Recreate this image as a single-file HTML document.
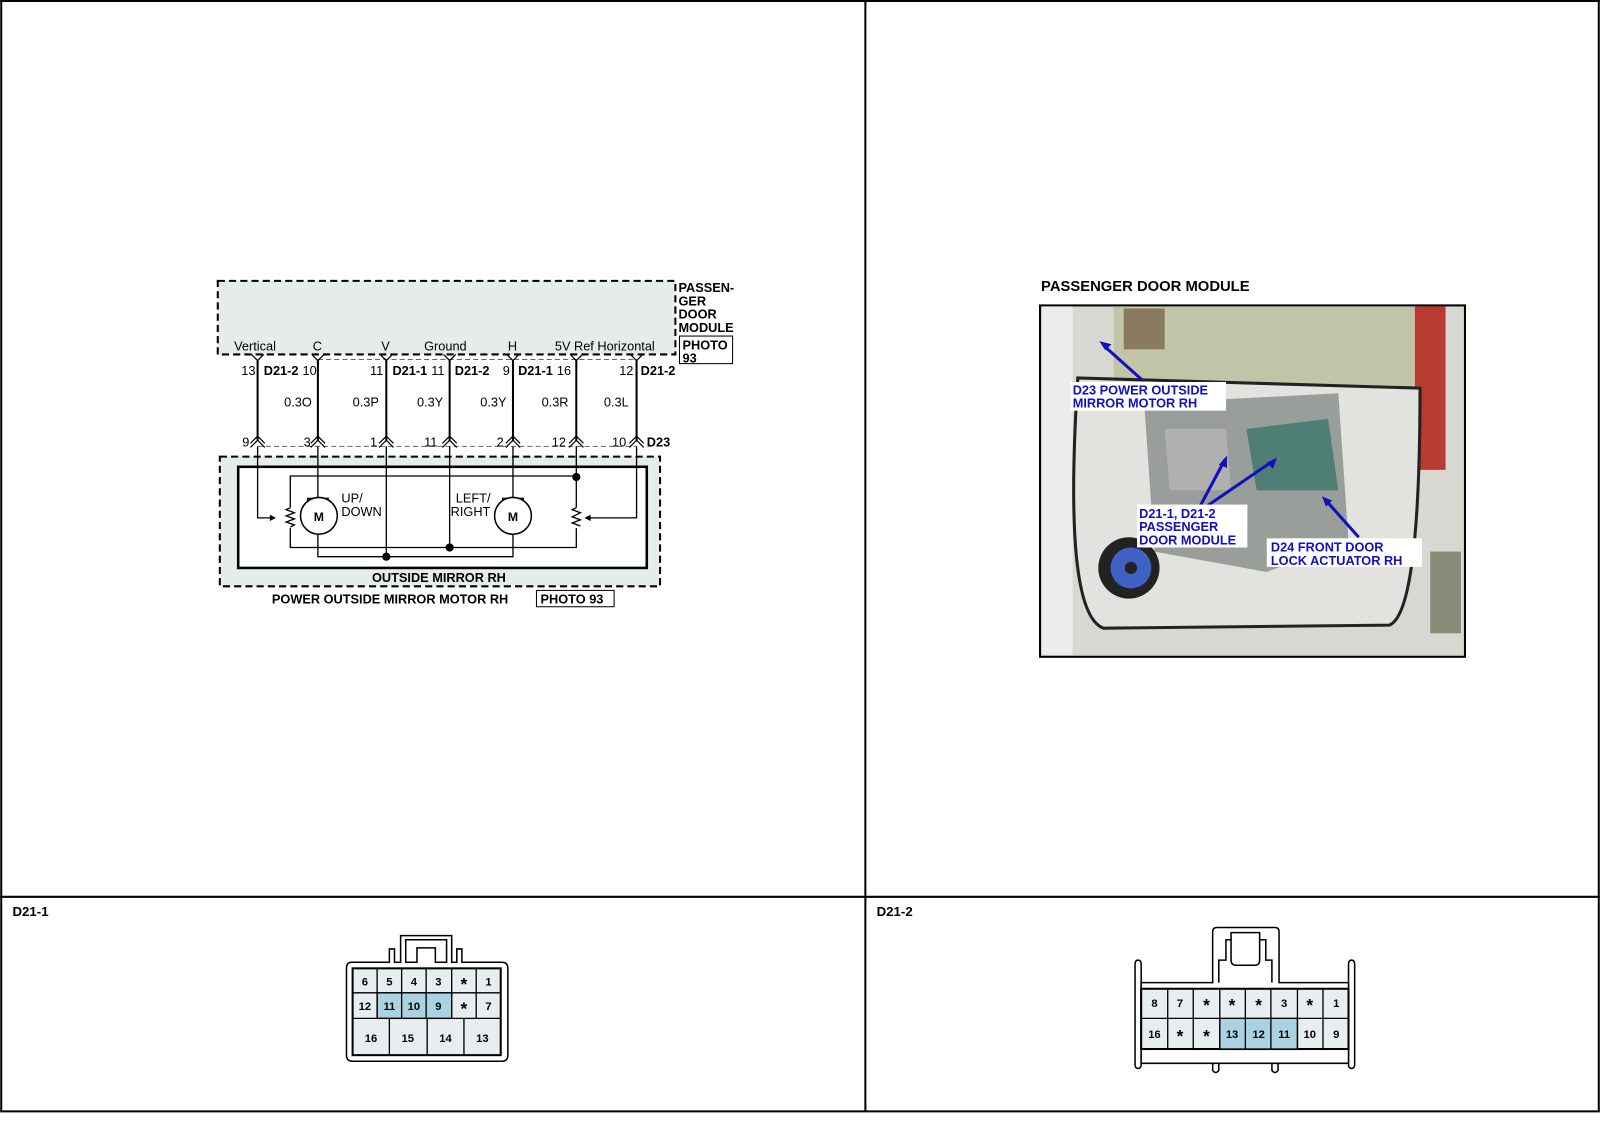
<!DOCTYPE html>
<html><head><meta charset="utf-8"><style>
html,body{margin:0;padding:0;background:#fff;}
svg{display:block;font-family:"Liberation Sans",Arial,sans-serif;}
.b{font-weight:bold}
</style></head><body>
<svg width="1600" height="1143" viewBox="0 0 1566 1119" xmlns="http://www.w3.org/2000/svg">
<rect x="0" y="0" width="1566" height="1119" fill="#fff"/>
<!-- frame -->
<g stroke="#000" stroke-width="2" fill="none">
<line x1="1" y1="0" x2="1" y2="1088"/>
<line x1="1565" y1="0" x2="1565" y2="1088"/>
<line x1="0" y1="1088" x2="1566" y2="1088"/>
<line x1="0" y1="878" x2="1566" y2="878"/>
<line x1="847" y1="0" x2="847" y2="1088"/>
<line x1="0" y1="1" x2="1566" y2="1"/>
</g>
<text x="12" y="897" font-size="13" class="b">D21-1</text>
<text x="858" y="897" font-size="13" class="b">D21-2</text>

<!-- schematic -->
<rect x="213" y="275" width="448" height="72" fill="#e6ebeb" stroke="#000" stroke-width="2" stroke-dasharray="7,4"/>
<g font-size="12.5">
<text x="229" y="343">Vertical</text>
<text x="306" y="343">C</text>
<text x="373" y="343">V</text>
<text x="415" y="343">Ground</text>
<text x="497" y="343">H</text>
<text x="543" y="343">5V Ref Horizontal</text>
</g>
<g font-size="12.5" class="b">
<text x="664" y="286">PASSEN-</text>
<text x="664" y="299">GER</text>
<text x="664" y="312">DOOR</text>
<text x="664" y="325">MODULE</text>
<text x="668" y="342">PHOTO</text>
<text x="668" y="355">93</text>
</g>
<rect x="665" y="329" width="52" height="27" fill="none" stroke="#000" stroke-width="1"/>
<path d="M311 352 H623" stroke="#666" stroke-dasharray="5,3" fill="none"/>
<path d="M252 437 H623" stroke="#666" stroke-dasharray="5,3" fill="none"/>
<g stroke="#000" stroke-width="2" fill="none">
<line x1="252" y1="352" x2="252" y2="432"/>
<line x1="311" y1="352" x2="311" y2="432"/>
<line x1="378" y1="352" x2="378" y2="432"/>
<line x1="440" y1="352" x2="440" y2="432"/>
<line x1="502" y1="352" x2="502" y2="432"/>
<line x1="564" y1="352" x2="564" y2="432"/>
<line x1="623" y1="352" x2="623" y2="432"/>
</g>
<g stroke="#000" stroke-width="1.2" fill="none">
<path d="M246 347 l6 6 l6 -6 M305 347 l6 6 l6 -6 M372 347 l6 6 l6 -6 M434 347 l6 6 l6 -6 M496 347 l6 6 l6 -6 M558 347 l6 6 l6 -6 M617 347 l6 6 l6 -6"/>
<path d="M245 434 l7 -7 l7 7 M245 438 l7 -7 l7 7 M304 434 l7 -7 l7 7 M304 438 l7 -7 l7 7 M371 434 l7 -7 l7 7 M371 438 l7 -7 l7 7 M433 434 l7 -7 l7 7 M433 438 l7 -7 l7 7 M495 434 l7 -7 l7 7 M495 438 l7 -7 l7 7 M557 434 l7 -7 l7 7 M557 438 l7 -7 l7 7 M616 434 l7 -7 l7 7 M616 438 l7 -7 l7 7"/>
</g>
<g font-size="12.5">
<text x="236" y="367">13</text><text x="258" y="367" class="b">D21-2</text><text x="296" y="367">10</text>
<text x="362" y="367">11</text><text x="384" y="367" class="b">D21-1</text><text x="422" y="367">11</text>
<text x="445" y="367" class="b">D21-2</text>
<text x="492" y="367">9</text><text x="507" y="367" class="b">D21-1</text><text x="545" y="367">16</text>
<text x="606" y="367">12</text><text x="627" y="367" class="b">D21-2</text>
<text x="278" y="398">0.3O</text><text x="345" y="398">0.3P</text><text x="408" y="398">0.3Y</text>
<text x="470" y="398">0.3Y</text><text x="530" y="398">0.3R</text><text x="591" y="398">0.3L</text>
<text x="237" y="437">9</text><text x="297" y="437">3</text><text x="362" y="437">1</text>
<text x="415" y="437">11</text><text x="486" y="437">2</text><text x="540" y="437">12</text>
<text x="599" y="437">10</text><text x="633" y="437" class="b">D23</text>
</g>
<rect x="215" y="447" width="431" height="127" fill="#e6ebeb" stroke="#000" stroke-width="2" stroke-dasharray="7,4"/>
<rect x="233" y="457" width="400" height="99" fill="#fff" stroke="#000" stroke-width="2.5"/>
<g stroke="#000" stroke-width="1.3" fill="none">
<polyline points="252,437 252,507 268,507"/>
<polyline points="623,437 623,507 574,507"/>
<polyline points="311,437 311,488"/>
<polyline points="311,519 311,545 502,545 502,519"/>
<polyline points="502,437 502,488"/>
<polyline points="378,437 378,545"/>
<polyline points="440,437 440,536"/>
<polyline points="284,497 284,466 564,466"/>
<polyline points="564,437 564,497"/>
<polyline points="284,517 284,536 564,536 564,517"/>
<path d="M284 497 l-4 2 l8 3 l-8 3 l8 3 l-8 3 l8 3 l-4 2"/>
<path d="M564 497 l-4 2 l8 3 l-4 2 l-4 2 l8 3 l-8 3 l8 3"/>
</g>
<path d="M270 507 l-6 -3 v6z M572 507 l6 -3 v6z" fill="#000"/>
<g stroke="#000" stroke-width="1.5" fill="#fff">
<rect x="301" y="488" width="20" height="31"/>
<circle cx="312" cy="505" r="18"/>
<rect x="492" y="488" width="20" height="31"/>
<circle cx="502" cy="505" r="18"/>
</g>
<text x="312" y="510" font-size="12" class="b" text-anchor="middle">M</text>
<text x="502" y="510" font-size="12" class="b" text-anchor="middle">M</text>
<g fill="#000"><circle cx="564" cy="467" r="4"/><circle cx="440" cy="536" r="4"/><circle cx="378" cy="545" r="4"/></g>
<g font-size="12.5"><text x="334" y="492">UP/</text><text x="334" y="505">DOWN</text>
<text x="446" y="492">LEFT/</text><text x="441" y="505">RIGHT</text></g>
<text x="364" y="570" font-size="12.5" class="b">OUTSIDE MIRROR RH</text>
<text x="266" y="591" font-size="12.5" class="b">POWER OUTSIDE MIRROR MOTOR RH</text>
<rect x="525" y="578" width="76" height="16" fill="none" stroke="#000"/>
<text x="529" y="591" font-size="12.5" class="b">PHOTO 93</text>

<!-- photo -->
<text x="1019" y="285" font-size="14.5" class="b">PASSENGER DOOR MODULE</text>
<rect x="1018" y="299" width="416" height="344" fill="#d8d8d2" stroke="#000" stroke-width="2"/>
<rect x="1090" y="300" width="300" height="80" fill="#c2c4a8"/>
<rect x="1385" y="300" width="30" height="160" fill="#b83a30"/>
<rect x="1020" y="300" width="30" height="341" fill="#ececea"/>
<rect x="1100" y="302" width="40" height="40" fill="#8a7a60"/>
<path d="M1055 370 Q1040 600 1080 615 L1360 612 Q1390 600 1390 380 Z" fill="#e2e2de" stroke="#222" stroke-width="3"/>
<path d="M1120 395 L1310 385 L1320 530 L1240 560 L1130 540 Z" fill="#9a9e9a"/>
<path d="M1220 420 L1300 410 L1310 480 L1230 480 Z" fill="#4f7f74"/>
<path d="M1140 420 L1200 420 L1205 480 L1145 480 Z" fill="#b0b0b0"/>
<circle cx="1105" cy="556" r="30" fill="#222"/>
<circle cx="1107" cy="556" r="20" fill="#3f62c4"/>
<circle cx="1107" cy="556" r="6" fill="#222"/>
<rect x="1400" y="540" width="30" height="80" fill="#8a8a78"/>
<g stroke="#1010c0" stroke-width="3" fill="none">
<line x1="1118" y1="372" x2="1080" y2="338"/>
<line x1="1175" y1="495" x2="1199" y2="450"/>
<line x1="1182" y1="495" x2="1245" y2="452"/>
<line x1="1330" y1="526" x2="1298" y2="490"/>
</g>
<g fill="#1010c0">
<path d="M1076 334 l12 3 l-6 6z"/><path d="M1201 446 l0 12 l-8 -3z"/><path d="M1250 448 l-4 11 l-6 -6z"/><path d="M1294 486 l10 4 l-6 6z"/>
</g>
<rect x="1048" y="374" width="152" height="28" fill="#fff"/>
<rect x="1113" y="494" width="108" height="42" fill="#fff"/>
<rect x="1240" y="527" width="152" height="28" fill="#fff"/>
<g font-size="12.5" class="b" fill="#1010c0">
<text x="1050" y="386">D23 POWER OUTSIDE</text><text x="1050" y="399">MIRROR MOTOR RH</text>
<text x="1115" y="507">D21-1, D21-2</text><text x="1115" y="520">PASSENGER</text><text x="1115" y="533">DOOR MODULE</text>
<text x="1244" y="540">D24 FRONT DOOR</text><text x="1244" y="553">LOCK ACTUATOR RH</text>
</g>

<!-- D21-1 connector -->
<g stroke="#000" stroke-width="1.5" fill="#fff">
<path d="M344 942 H381 V929 H386 V942 H392 V916 H442 V942 H447 V929 H452 V942 H491 Q497 942 497 948 V1033 Q497 1039 491 1039 H345 Q339 1039 339 1033 V948 Q339 942 344 942 Z"/>
<path d="M397 920 H437 V942 H426 V928 H408 V942 H397 Z"/>
</g>
<g stroke="#000" stroke-width="1.3" font-size="11" font-weight="bold">
<rect x="345" y="948" width="145" height="85" fill="#e8eef0" stroke-width="2"/>
<rect x="369" y="972" width="73" height="25" fill="#a9d3e0"/>
<path d="M345 972 H490 M345 997 H490 M369 948 V997 M393 948 V997 M417 948 V997 M442 948 V997 M466 948 V997 M381 997 V1033 M418 997 V1033 M454 997 V1033" fill="none"/>
</g>
<g font-size="11" font-weight="bold" text-anchor="middle">
<text x="357" y="965">6</text><text x="381" y="965">5</text><text x="405" y="965">4</text><text x="429" y="965">3</text><text x="454" y="969" font-size="17">*</text><text x="478" y="965">1</text>
<text x="357" y="989">12</text><text x="381" y="989">11</text><text x="405" y="989">10</text><text x="429" y="989">9</text><text x="454" y="993" font-size="17">*</text><text x="478" y="989">7</text>
<text x="363" y="1020">16</text><text x="399" y="1020">15</text><text x="436" y="1020">14</text><text x="472" y="1020">13</text>
</g>

<!-- D21-2 connector -->
<g stroke="#000" stroke-width="1.5" fill="#fff">
<path d="M1117 959 V1042 Q1117 1046 1114 1046 Q1111 1046 1111 1042 V944 Q1111 940 1114 940 Q1117 940 1117 944 Z"/>
<path d="M1320 959 V1042 Q1320 1046 1323 1046 Q1326 1046 1326 1042 V944 Q1326 940 1323 940 Q1320 940 1320 944 Z"/>
<path d="M1117 962 H1187 V912 Q1187 908 1191 908 H1248 Q1252 908 1252 912 V962 H1320 V1041 H1117 Z"/>
<path d="M1187 1041 V1048 Q1190 1052 1193 1048 V1041 M1245 1041 V1048 Q1248 1052 1251 1048 V1041" fill="none"/>
<path d="M1193 962 V940 H1200 V920 H1205 V913 H1233 V920 H1239 V940 H1245 V962" fill="none"/>
<path d="M1205 920 V940 Q1205 945 1210 945 H1228 Q1233 945 1233 940 V920" fill="none"/>
</g>
<g stroke="#000" stroke-width="1.3">
<rect x="1117" y="968" width="203" height="59" fill="#e8eef0" stroke-width="2"/>
<rect x="1194" y="997" width="76" height="30" fill="#a9d3e0"/>
<path d="M1117 997 H1320 M1143 968 V1027 M1168 968 V1027 M1194 968 V1027 M1219 968 V1027 M1244 968 V1027 M1270 968 V1027 M1295 968 V1027" fill="none"/>
</g>
<g font-size="11" font-weight="bold" text-anchor="middle">
<text x="1130" y="986">8</text><text x="1155" y="986">7</text><text x="1181" y="990" font-size="17">*</text><text x="1206" y="990" font-size="17">*</text><text x="1232" y="990" font-size="17">*</text><text x="1257" y="986">3</text><text x="1282" y="990" font-size="17">*</text><text x="1308" y="986">1</text>
<text x="1130" y="1016">16</text><text x="1155" y="1020" font-size="17">*</text><text x="1181" y="1020" font-size="17">*</text><text x="1206" y="1016">13</text><text x="1232" y="1016">12</text><text x="1257" y="1016">11</text><text x="1282" y="1016">10</text><text x="1308" y="1016">9</text>
</g>
</svg>
</body></html>
